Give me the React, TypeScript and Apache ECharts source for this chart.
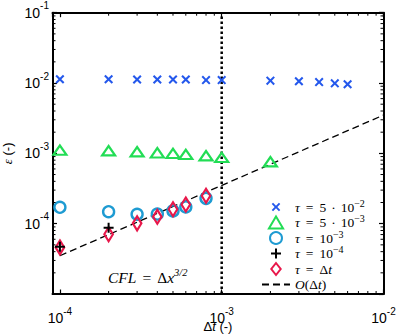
import React, { useEffect, useRef } from "react";
import * as echarts from "echarts";

// ---- data ----
const X_MIN = 9e-5;
const X_MAX = 1e-2;
const Y_MIN = 1e-5;
const Y_MAX = 1e-1;

const tau1X = [1e-4, 2e-4, 3e-4, 4e-4, 5e-4, 6e-4, 8e-4, 1e-3, 2e-3, 3e-3, 4e-3, 5e-3, 6e-3];
const tau1Y = [1.13e-2, 1.13e-2, 1.12e-2, 1.12e-2, 1.12e-2, 1.12e-2, 1.1e-2, 1.1e-2, 1.08e-2, 1.06e-2, 1.03e-2, 0.99e-2, 0.96e-2];

const tau2X = [1e-4, 2e-4, 3e-4, 4e-4, 5e-4, 6e-4, 8e-4, 1e-3, 2e-3];
const tau2Y = [1.11e-3, 1.09e-3, 1.055e-3, 1.02e-3, 1.0e-3, 0.968e-3, 0.925e-3, 0.877e-3, 0.76e-3];

const tau3X = [1e-4, 2e-4, 3e-4, 4e-4, 5e-4, 6e-4, 8e-4];
const tau3Y = [1.71e-4, 1.48e-4, 1.36e-4, 1.37e-4, 1.52e-4, 1.73e-4, 2.29e-4];

const tau4X = [1e-4, 2e-4];
const tau4Y = [4.69e-5, 8.75e-5];

const tau5X = [1e-4, 2e-4, 3e-4, 4e-4, 5e-4, 6e-4, 8e-4];
const tau5Y = [4.6e-5, 7.05e-5, 1.01e-4, 1.25e-4, 1.6e-4, 1.88e-4, 2.5e-4];

const orderX = [1e-4, 1e-2];
const orderY = [3.5e-5, 3.5e-3];

const cflX = [1e-3, 1e-3];
const cflY = [Y_MIN, Y_MAX];

const xMinor = [9e-5, 2e-4, 3e-4, 4e-4, 5e-4, 6e-4, 7e-4, 8e-4, 9e-4, 2e-3, 3e-3, 4e-3, 5e-3, 6e-3, 7e-3, 8e-3, 9e-3];
const yMinor = [
  2e-5, 3e-5, 4e-5, 5e-5, 6e-5, 7e-5, 8e-5, 9e-5,
  2e-4, 3e-4, 4e-4, 5e-4, 6e-4, 7e-4, 8e-4, 9e-4,
  2e-3, 3e-3, 4e-3, 5e-3, 6e-3, 7e-3, 8e-3, 9e-3,
  2e-2, 3e-2, 4e-2, 5e-2, 6e-2, 7e-2, 8e-2, 9e-2,
];

const legendNames = ["tau1", "tau2", "tau3", "tau4", "tau5", "order"];
const legendLabels: Record<string, string> = {
  tau1: "{i|τ}{op|=}{r|5}{dot|·}{r|10}{s|−2}",
  tau2: "{i|τ}{op|=}{r|5}{dot|·}{r|10}{s|−3}",
  tau3: "{i|τ}{op|=}{r|10}{s|−3}",
  tau4: "{i|τ}{op|=}{r|10}{s|−4}",
  tau5: "{i|τ}{op|=}{r|Δ}{i|t}{s| }",
  order: "{i|O}{r|(Δ}{i|t}{r|)}{s| }",
};

const BLUE = "#2458ec";
const GREEN = "#22dd55";
const CYAN = "#1e9bd2";
const RED = "#e8174a";

// X and plus drawn inside a slightly larger (empty) bounding box so legend icons stay small
const X_SYMBOL = "path://M-2,-2 Z M12,12 Z M1.6,0 L5,3.4 L8.4,0 L10,1.6 L6.6,5 L10,8.4 L8.4,10 L5,6.6 L1.6,10 L0,8.4 L3.4,5 L0,1.6 Z";
const PLUS_SYMBOL = "path://M-1,-1 Z M11,11 Z M4,0 H6 V4 H10 V6 H6 V10 H4 V6 H0 V4 H4 Z";
const TRI_SYMBOL = "path://M6.5,0 L13,11 L0,11 Z";
const DIAMOND_SYMBOL = "path://M5.5,0 L11,7 L5.5,14 L0,7 Z";

const zip = (xs: number[], ys: number[]) => xs.map((x, i) => [x, ys[i]]);

const sans = "'Liberation Sans', Arial, sans-serif";
const serif = "'Liberation Serif', 'Times New Roman', serif";

const tickLabelFormatter = (v: number) => {
  const e = Math.round(Math.log10(v));
  return `{b|10}{s|${e < 0 ? "-" : ""}${Math.abs(e)}}`;
};
const tickRich = {
  b: { fontSize: 14, fontFamily: sans, color: "#000" },
  s: { fontSize: 10, fontFamily: sans, color: "#000", padding: [0, 0, 14, 0] },
};

const axisCommon = {
  type: "log",
  logBase: 10,
  axisLine: { show: true, lineStyle: { color: "#000", width: 2 } },
  axisTick: { show: true, inside: true, length: 4.5, lineStyle: { color: "#000", width: 1.2 } },
  splitLine: { show: false },
  minorTick: { show: false },
};

export default function App() {
  const ref = useRef<HTMLDivElement>(null);
  useEffect(() => {
    if (!ref.current) return;
    const chart = echarts.init(ref.current, undefined, { renderer: "svg" });

    const minorTickStyle = { stroke: "#000", lineWidth: 1 };
    const LFS = 13.5;

    const option: any = {
      animation: false,
      grid: { left: 52.5, right: 15.5, top: 12.7, bottom: 41, containLabel: false, outerBoundsMode: "none" },
      xAxis: [
        {
          ...axisCommon,
          min: X_MIN,
          max: X_MAX,
          position: "bottom",
          axisLabel: {
            show: true,
            showMinLabel: false,
            margin: 12,
            formatter: tickLabelFormatter,
            rich: tickRich,
          },
          name: "{r|Δ}{i|t}{r| (-)}",
          nameLocation: "middle",
          nameGap: 26,
          nameMoveOverlap: false,
          nameTextStyle: {
            rich: {
              r: { fontSize: 13, fontFamily: sans, color: "#000" },
              i: { fontSize: 13, fontFamily: sans, fontStyle: "italic", color: "#000" },
            },
          },
        },
        {
          ...axisCommon,
          min: X_MIN,
          max: X_MAX,
          position: "top",
          axisLabel: { show: false },
        },
      ],
      yAxis: [
        {
          ...axisCommon,
          min: Y_MIN,
          max: Y_MAX,
          position: "left",
          axisLabel: {
            show: true,
            showMinLabel: false,
            margin: 3.5,
            formatter: tickLabelFormatter,
            rich: tickRich,
          },
          name: "{i|ε}{r| (-)}",
          nameLocation: "middle",
          nameGap: 37,
          nameRotate: 90,
          nameTextStyle: {
            rich: {
              r: { fontSize: 13, fontFamily: sans, color: "#000" },
              i: { fontSize: 13, fontFamily: serif, fontStyle: "italic", color: "#000" },
            },
          },
        },
        {
          ...axisCommon,
          min: Y_MIN,
          max: Y_MAX,
          position: "right",
          axisLabel: { show: false },
        },
      ],
      legend: {
        data: legendNames.map((n) =>
          n === "order"
            ? { name: n, itemStyle: { color: "rgba(0,0,0,0)", borderColor: "rgba(0,0,0,0)", borderWidth: 0 } }
            : { name: n }
        ),
        orient: "vertical",
        left: 261,
        top: 198,
        itemWidth: 28,
        itemHeight: 12,
        itemGap: -2.5,
        padding: 0,
        symbolKeepAspect: true,
        formatter: (name: string) => legendLabels[name],
        textStyle: {
          fontSize: LFS,
          fontFamily: serif,
          color: "#000",
          lineHeight: 13,
          rich: {
            i: { fontSize: LFS, fontFamily: serif, fontStyle: "italic", color: "#000", lineHeight: 13 },
            r: { fontSize: LFS, fontFamily: serif, color: "#000", lineHeight: 13 },
            op: { fontSize: LFS, fontFamily: serif, color: "#000", lineHeight: 13, padding: [0, 6, 0, 6] },
            dot: { fontSize: LFS, fontFamily: serif, color: "#000", lineHeight: 13, padding: [0, 5, 0, 5] },
            s: { fontSize: 10, fontFamily: serif, color: "#000", lineHeight: 13, padding: [0, 0, 8, 0] },
          },
        },
      },
      graphic: [
        {
          type: "text",
          left: 108,
          top: 267,
          style: {
            text: "{i|CFL}{op|=}{r|Δ}{i|x}{s|3/2}",
            rich: {
              i: { fontSize: 15.5, fontFamily: serif, fontStyle: "italic", fill: "#000", lineHeight: 15 },
              r: { fontSize: 15.5, fontFamily: serif, fill: "#000", lineHeight: 15 },
              op: { fontSize: 15.5, fontFamily: serif, fill: "#000", lineHeight: 15, padding: [0, 6, 0, 6] },
              s: { fontSize: 10.5, fontFamily: serif, fontStyle: "italic", fill: "#000", lineHeight: 15, padding: [0, 0, 10, 0] },
            },
          },
          z: 10,
        },
      ],
      series: [
        {
          name: "cflLine",
          type: "line",
          data: zip(cflX, cflY),
          symbol: "none",
          lineStyle: { color: "#000", width: 2.5, type: [2.5, 2.5] },
          silent: true,
          z: 1,
        },
        {
          name: "order",
          type: "line",
          data: zip(orderX, orderY),
          symbol: "none",
          lineStyle: { color: "#000", width: 1.3, type: [7, 4] },
          itemStyle: { color: "rgba(0,0,0,0)" },
          silent: true,
          z: 2,
        },
        {
          name: "tau1",
          type: "scatter",
          data: zip(tau1X, tau1Y),
          symbol: X_SYMBOL,
          symbolSize: 12.6,
          symbolKeepAspect: true,
          itemStyle: { color: BLUE, opacity: 1 },
          z: 3,
        },
        {
          name: "tau2",
          type: "scatter",
          data: zip(tau2X, tau2Y),
          symbol: TRI_SYMBOL,
          symbolSize: [13, 11],
          symbolKeepAspect: true,
          itemStyle: { color: "rgba(0,0,0,0)", borderColor: GREEN, borderWidth: 2.2, opacity: 1 },
          z: 4,
        },
        {
          name: "tau3",
          type: "scatter",
          data: zip(tau3X, tau3Y),
          symbol: "circle",
          symbolSize: 11,
          symbolKeepAspect: true,
          itemStyle: { color: "rgba(0,0,0,0)", borderColor: CYAN, borderWidth: 2.4, opacity: 1 },
          z: 5,
        },
        {
          name: "tau5",
          type: "scatter",
          data: zip(tau5X, tau5Y),
          symbol: DIAMOND_SYMBOL,
          symbolSize: [11, 14],
          symbolKeepAspect: true,
          itemStyle: { color: "rgba(0,0,0,0)", borderColor: RED, borderWidth: 2.2, opacity: 1 },
          z: 6,
        },
        {
          name: "tau4",
          type: "scatter",
          data: zip(tau4X, tau4Y),
          symbol: PLUS_SYMBOL,
          symbolSize: 12,
          symbolKeepAspect: true,
          itemStyle: { color: "#000", opacity: 1 },
          z: 7,
        },
        {
          name: "xMinorTicks",
          type: "custom",
          silent: true,
          data: xMinor.map((v) => [v, Y_MIN]),
          encode: { x: 0, y: 1 },
          clip: false,
          z: 8,
          renderItem: (params: any, api: any) => {
            const v = api.value(0);
            const b = api.coord([v, Y_MIN]);
            const t = api.coord([v, Y_MAX]);
            return {
              type: "group",
              children: [
                { type: "line", shape: { x1: b[0], y1: b[1], x2: b[0], y2: b[1] - 3 }, style: minorTickStyle },
                { type: "line", shape: { x1: t[0], y1: t[1], x2: t[0], y2: t[1] + 3 }, style: minorTickStyle },
              ],
            };
          },
        },
        {
          name: "yMinorTicks",
          type: "custom",
          silent: true,
          data: yMinor.map((v) => [X_MIN, v]),
          encode: { x: 0, y: 1 },
          clip: false,
          z: 8,
          renderItem: (params: any, api: any) => {
            const v = api.value(1);
            const l = api.coord([X_MIN, v]);
            const r = api.coord([X_MAX, v]);
            return {
              type: "group",
              children: [
                { type: "line", shape: { x1: l[0], y1: l[1], x2: l[0] + 3, y2: l[1] }, style: minorTickStyle },
                { type: "line", shape: { x1: r[0], y1: r[1], x2: r[0] - 3, y2: r[1] }, style: minorTickStyle },
              ],
            };
          },
        },
      ],
    };

    chart.setOption(option);
    return () => chart.dispose();
  }, []);

  return <div ref={ref} style={{ width: 399, height: 335, position: "absolute", left: 0, top: 0, background: "#fff" }} />;
}
